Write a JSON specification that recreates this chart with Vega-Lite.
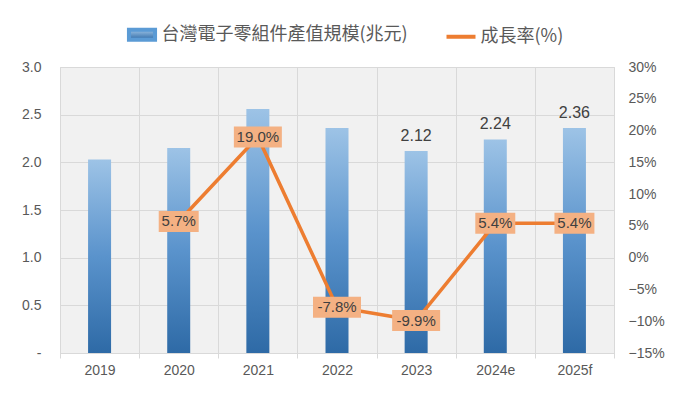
{
  "$schema": "https://vega.github.io/schema/vega-lite/v6.json",
  "width": 554,
  "height": 286,
  "autosize": "none",
  "padding": {"left": 60, "top": 67, "right": 65, "bottom": 43},
  "background": "white",
  "config": {
    "view": {"fill": "#f1f1f1", "stroke": "#d9d9d9"},
    "font": "Liberation Sans",
    "axis": {"labelFont": "Liberation Sans", "labelFontSize": 14, "labelColor": "#595959", "title": null}
  },
  "data": {
    "values": [
      {"year": "2019", "value": 2.03, "growth": null, "barLabel": "", "growthLabel": ""},
      {"year": "2020", "value": 2.15, "growth": 0.057, "barLabel": "", "growthLabel": "5.7%"},
      {"year": "2021", "value": 2.56, "growth": 0.19, "barLabel": "", "growthLabel": "19.0%"},
      {"year": "2022", "value": 2.36, "growth": -0.078, "barLabel": "", "growthLabel": "-7.8%"},
      {"year": "2023", "value": 2.12, "growth": -0.099, "barLabel": "2.12", "growthLabel": "-9.9%"},
      {"year": "2024e", "value": 2.24, "growth": 0.054, "barLabel": "2.24", "growthLabel": "5.4%"},
      {"year": "2025f", "value": 2.36, "growth": 0.054, "barLabel": "2.36", "growthLabel": "5.4%"}
    ]
  },
  "encoding": {
    "x": {
      "field": "year",
      "type": "nominal",
      "sort": null,
      "scale": {"paddingInner": 0, "paddingOuter": 0},
      "axis": {
        "labelAngle": 0,
        "tickBand": "extent",
        "grid": true,
        "gridColor": "#d9d9d9",
        "domainColor": "#d9d9d9",
        "tickColor": "#d9d9d9",
        "tickSize": 5,
        "labelPadding": 5
      }
    }
  },
  "layer": [
    {
      "encoding": {
        "y": {
          "field": "value",
          "type": "quantitative",
          "scale": {"domain": [0, 3], "nice": false},
          "axis": {
            "values": [0, 0.5, 1, 1.5, 2, 2.5, 3],
            "labelExpr": "datum.value == 0 ? '-' : format(datum.value, '.1f')",
            "grid": true,
            "gridColor": "#d9d9d9",
            "domain": false,
            "ticks": false,
            "labelPadding": 19
          }
        }
      },
      "layer": [
        {
          "mark": {
            "type": "bar",
            "width": 23,
            "color": {
              "gradient": "linear",
              "x1": 0, "y1": 0, "x2": 0, "y2": 1,
              "stops": [
                {"offset": 0, "color": "#9dc3e6"},
                {"offset": 0.5, "color": "#5a93cc"},
                {"offset": 1, "color": "#2e6aa6"}
              ]
            }
          }
        },
        {
          "mark": {"type": "text", "dy": -7, "baseline": "bottom", "fontSize": 16, "color": "#404040", "font": "Liberation Sans"},
          "encoding": {"text": {"field": "barLabel"}}
        }
      ]
    },
    {
      "encoding": {
        "y": {
          "field": "growth",
          "type": "quantitative",
          "scale": {"domain": [-0.15, 0.3], "nice": false, "zero": false},
          "axis": {
            "orient": "right",
            "values": [-0.15, -0.1, -0.05, 0, 0.05, 0.1, 0.15, 0.2, 0.25, 0.3],
            "format": ".0%",
            "grid": false,
            "domain": false,
            "ticks": false,
            "labelPadding": 14
          }
        }
      },
      "layer": [
        {
          "mark": {"type": "line", "strokeWidth": 3.5},
          "encoding": {
            "color": {
              "datum": "成長率(%)",
              "scale": {"domain": ["台灣電子零組件產值規模(兆元)", "成長率(%)"], "range": ["#5b9bd5", "#ed7d31"]},
              "legend": {
                "orient": "none",
                "legendX": 65.5,
                "legendY": -49,
                "direction": "horizontal",
                "title": null,
                "padding": 0,
                "labelFont": "Noto Sans CJK TC",
                "labelFontSize": 18,
                "labelColor": "#595959",
                "labelLimit": 500,
                "labelOffset": 3,
                "columnPadding": 30,
                "symbolSize": 841,
                "symbolStrokeWidth": 4,
                "encode": {
                  "symbols": {
                    "update": {
                      "shape": [
                        {"test": "datum.value === '台灣電子零組件產值規模(兆元)'", "value": "M-0.9,-0.345L0.9,-0.345L0.9,0.345L-0.9,0.345Z"},
                        {"value": "stroke"}
                      ],
                      "fill": [
                        {"test": "datum.value === '台灣電子零組件產值規模(兆元)'", "value": {"gradient": "linear", "x1": 0, "y1": 0, "x2": 0, "y2": 1, "stops": [{"offset": 0, "color": "#9dc3e6"}, {"offset": 1, "color": "#2e6aa6"}]}},
                        {"value": "transparent"}
                      ],
                      "stroke": [
                        {"test": "datum.value === '台灣電子零組件產值規模(兆元)'", "value": "transparent"},
                        {"value": "#ed7d31"}
                      ]
                    }
                  }
                }
              }
            }
          }
        },
        {
          "mark": {"type": "point", "filled": true, "size": 2304, "color": "#f4b183", "opacity": 1, "strokeWidth": 0},
          "encoding": {
            "shape": {
              "condition": {"test": "length(datum.growthLabel) > 4", "value": "M-1,-0.4375L1,-0.4375L1,0.4375L-1,0.4375Z"},
              "value": "M-0.833,-0.4375L0.833,-0.4375L0.833,0.4375L-0.833,0.4375Z"
            }
          }
        },
        {
          "mark": {"type": "text", "fontSize": 15, "color": "#404040", "baseline": "middle", "font": "Liberation Sans"},
          "encoding": {"text": {"field": "growthLabel"}}
        }
      ]
    }
  ],
  "resolve": {"scale": {"y": "independent"}}
}
